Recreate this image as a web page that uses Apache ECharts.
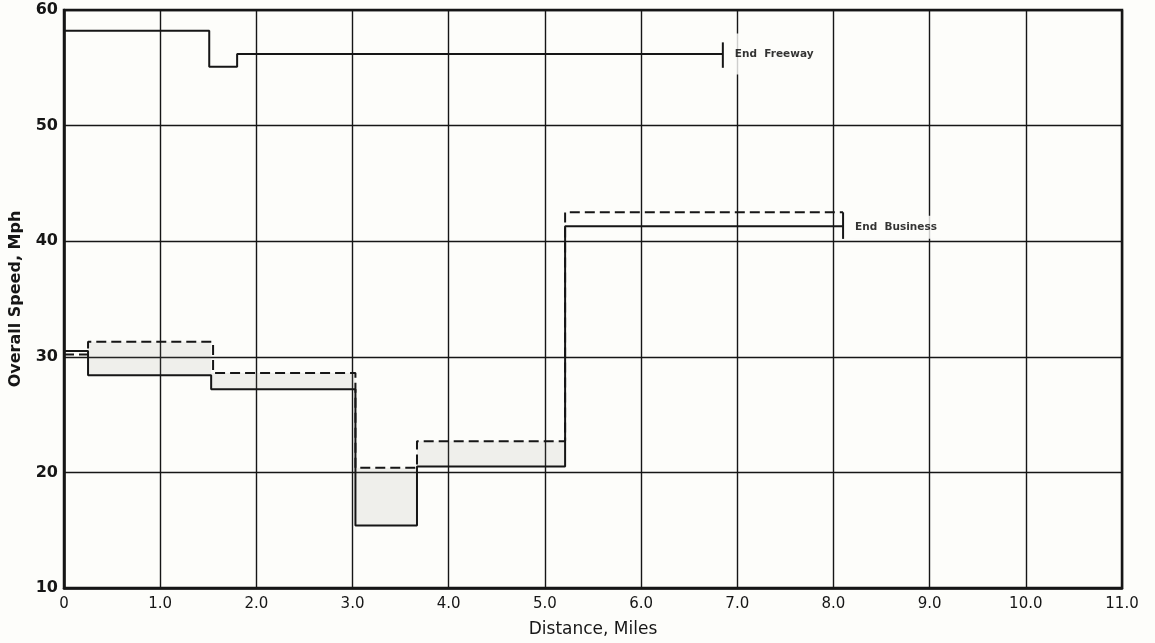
<!DOCTYPE html>
<html>
<head>
<meta charset="utf-8">
<script src="https://cdn.jsdelivr.net/npm/echarts@6/dist/echarts.min.js"></script>
<style>
  html, body { margin: 0; padding: 0; background: #fdfdfa; }
  #chart { width: 1155px; height: 643px; }
</style>
</head>
<body>
<div id="chart"></div>
<script>
// Step boundaries (miles) and the overall speed held on each step (mph)
const freewayBreaks = [0, 1.51, 1.8, 6.85];
const freewaySpeeds = [58.2, 55.1, 56.2];

const businessSolidBreaks = [0, 0.25, 1.53, 3.03, 3.67, 5.21, 8.1];
const businessSolidSpeeds = [30.5, 28.4, 27.2, 15.4, 20.5, 41.3];

const businessDashedBreaks = [0, 0.25, 1.55, 3.03, 3.67, 5.21, 8.1];
const businessDashedSpeeds = [30.2, 31.3, 28.6, 20.4, 22.7, 42.5];

// Shaded difference bands: [fromMile, toMile, lowSpeed, highSpeed]
const shadedBands = [
  [0.25, 1.53, 28.4, 31.3],
  [1.53, 3.03, 27.2, 28.6],
  [3.03, 3.67, 15.4, 20.4],
  [3.67, 5.21, 20.5, 22.7]
];

// End-of-route ticks: [mile, fromSpeed, toSpeed]
const freewayEndTick = [6.85, 55.0, 57.2];
const businessEndTick = [8.1, 42.5, 40.2];

// End notes: [mile, speed, text, vertical padding of the label box]
const endLabels = [
  [6.85, 56.2, 'End  Freeway', 15],
  [8.1, 41.2, 'End  Business', 6]
];

const xTickValues = [0, 1, 2, 3, 4, 5, 6, 7, 8, 9, 10, 11];
const xTickLabels = ['0', '1.0', '2.0', '3.0', '4.0', '5.0', '6.0', '7.0', '8.0', '9.0', '10.0', '11.0'];
const yTickValues = [10, 20, 30, 40, 50, 60];

function stepPoints(breaks, speeds) {
  const pts = speeds.map((s, i) => [breaks[i], s]);
  pts.push([breaks[breaks.length - 1], speeds[speeds.length - 1]]);
  return pts;
}

const ink = '#161616';
const paper = '#fdfdfa';
const labelFont = '"DejaVu Sans", "Noto Sans", sans-serif';

const chart = echarts.init(document.getElementById('chart'));
chart.setOption({
  backgroundColor: paper,
  animation: false,
  grid: {
    left: 64, right: 33, top: 10, bottom: 55,
    show: true, borderColor: ink, borderWidth: 2.5, backgroundColor: 'transparent'
  },
  xAxis: {
    type: 'value', min: 0, max: 11, interval: 1,
    name: 'Distance, Miles', nameLocation: 'middle', nameGap: 33,
    nameTextStyle: { color: ink, fontSize: 17, fontFamily: labelFont },
    axisLine: { show: true, onZero: false, lineStyle: { color: ink, width: 2.5 } },
    axisTick: { show: false },
    axisLabel: {
      color: ink, fontSize: 15, fontFamily: labelFont, margin: 9,
      formatter: v => xTickLabels[xTickValues.indexOf(v)]
    },
    splitLine: { show: true, lineStyle: { color: ink, width: 1.4 } }
  },
  yAxis: {
    type: 'value', min: 10, max: 60, interval: 10,
    name: 'Overall Speed, Mph', nameLocation: 'middle', nameGap: 40,
    nameTextStyle: { color: ink, fontSize: 16, fontWeight: 'bold', fontFamily: labelFont },
    axisLine: { show: true, onZero: false, lineStyle: { color: ink, width: 2.5 } },
    axisTick: { show: false },
    axisLabel: {
      color: ink, fontSize: 16, fontWeight: 'bold', fontFamily: labelFont, margin: 6,
      formatter: v => yTickValues.includes(v) ? String(v) : ''
    },
    splitLine: { show: true, lineStyle: { color: ink, width: 1.4 } }
  },
  series: [
    {
      // faint stipple between the two business-route profiles
      type: 'custom',
      silent: true,
      z: 1,
      data: shadedBands,
      renderItem: (params, api) => {
        const p0 = api.coord([api.value(0), api.value(3)]);
        const p1 = api.coord([api.value(1), api.value(2)]);
        return {
          type: 'rect',
          shape: { x: p0[0], y: p0[1], width: p1[0] - p0[0], height: p1[1] - p0[1] },
          style: { fill: 'rgba(140,140,130,0.12)' }
        };
      }
    },
    {
      type: 'line', step: 'end', symbol: 'none', z: 3,
      data: stepPoints(freewayBreaks, freewaySpeeds),
      lineStyle: { color: ink, width: 2 }
    },
    {
      type: 'line', step: 'end', symbol: 'none', z: 3,
      data: stepPoints(businessSolidBreaks, businessSolidSpeeds),
      lineStyle: { color: ink, width: 2 }
    },
    {
      type: 'line', step: 'end', symbol: 'none', z: 3,
      data: stepPoints(businessDashedBreaks, businessDashedSpeeds),
      lineStyle: { color: ink, width: 2, type: [10, 5] }
    },
    {
      type: 'line', symbol: 'none', z: 3,
      data: [[freewayEndTick[0], freewayEndTick[1]], [freewayEndTick[0], freewayEndTick[2]]],
      lineStyle: { color: ink, width: 2 }
    },
    {
      type: 'line', symbol: 'none', z: 3,
      data: [[businessEndTick[0], businessEndTick[1]], [businessEndTick[0], businessEndTick[2]]],
      lineStyle: { color: ink, width: 2 }
    },
    {
      type: 'scatter', symbolSize: 0, z: 4, silent: true,
      data: endLabels.map(d => ({
        value: [d[0], d[1]], name: d[2],
        label: { padding: [d[3], 4] }
      })),
      label: {
        show: true, position: 'right', distance: 8,
        formatter: p => p.name,
        color: '#000', fontSize: 10.5, fontWeight: 'bold', fontFamily: labelFont,
        backgroundColor: paper
      }
    }
  ]
});
</script>
</body>
</html>
